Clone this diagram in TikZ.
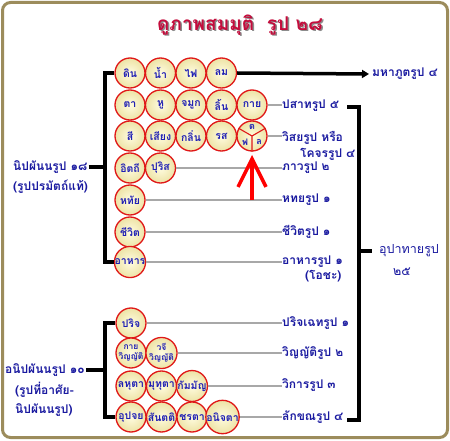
\documentclass[tikz,border=0pt]{standalone}
\usepackage{fontspec}
\setmainfont[Script=Thai]{Loma}
\usetikzlibrary{arrows.meta}
\definecolor{cred}{HTML}{E01818}
\definecolor{cin}{HTML}{FFFCE0}
\definecolor{cout}{HTML}{EDE3A6}
\definecolor{ctext}{HTML}{1E1EB4}
\definecolor{clab}{HTML}{1A1AA0}
\definecolor{cgray}{HTML}{A8A8A8}
\definecolor{cframe}{HTML}{9C8C5C}
\definecolor{ctitle}{HTML}{C40C3C}
\begin{document}
\begin{tikzpicture}[x=1pt,y=-1pt,
  circ/.style={circle, draw=cred, line width=1.3pt, minimum size=30pt, inner sep=0pt,
    inner color=cin, outer color=cout, text=ctext, font=\bfseries\fontsize{10.5}{10.5}\selectfont},
  circsm/.style={circ, font=\bfseries\fontsize{8.5}{10}\selectfont, align=center},
  lab/.style={anchor=west, inner sep=0pt, text=clab, font=\bfseries\fontsize{12}{13}\selectfont},
  labreg/.style={lab, font=\fontsize{12.5}{13}\selectfont},
  blk/.style={draw=black, line width=3.5pt},
  gry/.style={draw=cgray, line width=1.8pt},
  redarr/.style={draw=red, line width=3.5pt, -{Straight Barb[length=28pt,width=28pt]}}
]
\useasboundingbox (0,0) rectangle (450,441);
\fill[white] (0,0) rectangle (450,441);
\draw[cframe, line width=3pt, rounded corners=8pt] (2.5,2.5) rectangle (447.5,437.5);

% title
\node[text=black!45, font=\bfseries\fontsize{19}{20}\selectfont] (tshadow) at (241.5,26.5) {ดูภาพสมมุติ\ \ รูป ๒๘};
\node[text=ctitle, font=\bfseries\fontsize{19}{20}\selectfont] (title) at (240,25) {ดูภาพสมมุติ\ \ รูป ๒๘};

% circles upper group
\node[circ] (d1) at (130,73) {ดิน};
\node[circ] (d2) at (160.5,73) {น้ำ};
\node[circ] (d3) at (191,73) {ไฟ};
\node[circ] (d4) at (221.5,73) {ลม};
\node[circ] (p1) at (130,105) {ตา};
\node[circ] (p2) at (160.5,105) {หู};
\node[circ] (p3) at (191,105) {จมูก};
\node[circ] (p4) at (221.5,105) {ลิ้น};
\node[circ] (p5) at (252,105) {กาย};
\node[circ] (v1) at (130,136) {สี};
\node[circ] (v2) at (160.5,136) {เสียง};
\node[circ] (v3) at (191,136) {กลิ่น};
\node[circ] (v4) at (221.5,136) {รส};
\node[circ] (sp) at (252,136) {};
\draw[cred, line width=1.1pt] (sp.center) -- (sp.south) (sp.center) -- (sp.150) (sp.center) -- (sp.30);
\node[text=ctext, font=\bfseries\fontsize{9}{8}\selectfont, inner sep=0pt] (spt) at (252,127) {ต};
\node[text=ctext, font=\bfseries\fontsize{9}{8}\selectfont, inner sep=0pt] (spf) at (245,142) {ฟ};
\node[text=ctext, font=\bfseries\fontsize{9}{8}\selectfont, inner sep=0pt] (spl) at (259,142) {ล};
\node[circ] (b1) at (130,168) {อิตถี};
\node[circ] (b2) at (160.5,168) {ปุริส};
\node[circ] (h1) at (130,200) {หทัย};
\node[circ] (j1) at (130,232) {ชีวิต};
\node[circ] (a1) at (130,262) {อาหาร};

% circles lower group
\node[circ] (c1) at (131,323) {ปริจ};
\node[circsm] (w1) at (131,353) {กาย\\วิญญัติ};
\node[circsm] (w2) at (161.5,353) {วจี\\วิญญัติ};
\node[circ] (k1) at (131,386) {ลหุตา};
\node[circ] (k2) at (161.5,386) {มุทุตา};
\node[circ] (k3) at (192,386) {กัมมัญ};
\node[circ] (l1) at (131,417) {อุปจย};
\node[circ] (l2) at (161.5,417) {สันตติ};
\node[circ] (l3) at (192,417) {ชรตา};
\node[circ] (l4) at (222.5,417) {อนิจตา};

% right labels
\node[lab] (maha) at (372,74) {มหาภูตรูป ๔};
\node[lab] (pasa) at (282,106) {ปสาทรูป ๕};
\node[lab] (visa) at (282,138) {วิสยรูป หรือ};
\node[lab] (koca) at (300,154) {โคจรรูป ๔};
\node[lab] (bhav) at (282,168) {ภาวรูป ๒};
\node[lab] (hada) at (282,200) {หทยรูป ๑};
\node[lab] (jivi) at (282,232) {ชีวิตรูป ๑};
\node[lab] (ahar) at (282,262) {อาหารรูป ๑};
\node[lab] (ocha) at (305,276) {(โอชะ)};
\node[lab] (pari) at (282,323) {ปริจเฉทรูป ๑};
\node[lab] (vinn) at (282,353) {วิญญัติรูป ๒};
\node[lab] (vika) at (282,385) {วิการรูป ๓};
\node[lab] (lakk) at (282,417) {ลักขณรูป ๔};
\node[labreg] (upa) at (379,251) {อุปาทายรูป};
\node[labreg] (upn) at (393,272) {๒๕};

% left labels
\node[lab] (nip) at (13,167) {นิปผันนรูป ๑๘};
\node[lab] (nip2) at (13,187) {(รูปปรมัตถ์แท้)};
\node[lab] (anip) at (5,370) {อนิปผันนรูป ๑๐};
\node[lab] (anip2) at (15,390) {(รูปที่อาศัย-};
\node[lab] (anip3) at (15,410) {นิปผันนรูป)};

% gray connectors
\draw[gry] (p5.east) -- (p5.east -| pasa.west);
\draw[gry] (sp.east) -- (sp.east -| visa.west);
\draw[gry] (b2.east) -- (b2.east -| bhav.west);
\draw[gry] (h1.east) -- (h1.east -| hada.west);
\draw[gry] (j1.east) -- (j1.east -| jivi.west);
\draw[gry] (a1.east) -- (a1.east -| ahar.west);
\draw[gry] (c1.east) -- (c1.east -| pari.west);
\draw[gry] (w2.east) -- (w2.east -| vinn.west);
\draw[gry] (k3.east) -- (k3.east -| vika.west);
\draw[gry] (l4.east) -- (l4.east -| lakk.west);

% black arrow to maha
\draw[blk, -{Triangle[length=7pt,width=8pt]}] (d4.east) -- ([xshift=-3pt]maha.west);

% red arrow
\coordinate (rbase) at (252,200);
\coordinate (rtip) at (252,155);
\draw[redarr] (rbase) -- (rtip);

% left brackets
\coordinate (lx) at (105,0);
\draw[blk, line join=miter] (d1.west) -- (d1.west -| lx) -- (a1.west -| lx) -- (a1.west);
\draw[blk] ([xshift=1pt]nip.east) -- (nip.east -| lx);
\draw[blk, line join=miter] (c1.west) -- (c1.west -| lx) -- (l1.west -| lx) -- (l1.west);
\draw[blk] ([xshift=1pt]anip.east) -- (anip.east -| lx);

% right bracket
\coordinate (rx) at (359,0);
\coordinate (rt) at (347,107);
\coordinate (rb) at (347,420);
\draw[blk, line join=miter] (rt) -- (rt -| rx) -- (rb -| rx) -- (rb);
\draw[blk] (rx |- upa.west) -- ([xshift=-7pt]upa.west);
\end{tikzpicture}
\end{document}
